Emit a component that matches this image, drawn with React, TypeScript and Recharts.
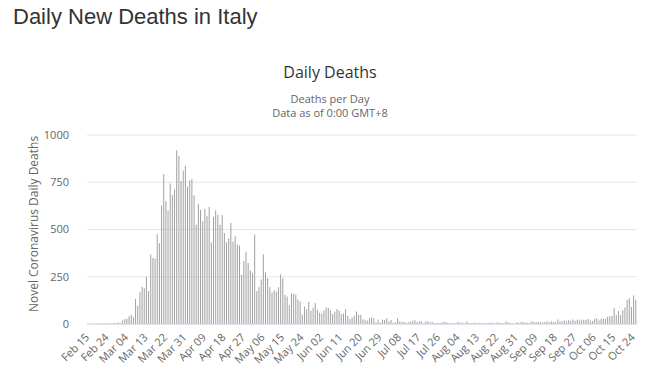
import { BarChart, Bar, XAxis, YAxis, CartesianGrid } from 'recharts';

// daily deaths per month, Feb 15 .. Oct 25
const febDeaths = [0, 0, 0, 0, 0, 0, 1, 1, 1, 4, 3, 2, 5, 4, 8];
const marDeaths = [
    5, 18, 27, 28, 41, 49, 36, 133, 97, 168, 196, 189, 250, 175, 368, 349, 345, 475, 427, 627,
    793, 651, 601, 743, 683, 712, 919, 889, 756, 812, 837,
];
const aprDeaths = [
    727, 760, 766, 681, 525, 636, 604, 542, 610, 570, 619, 431, 566, 602, 578, 525, 575, 482, 433,
    454, 534, 437, 464, 420, 415, 260, 333, 382, 323, 285,
];
const mayDeaths = [
    269, 474, 174, 195, 236, 369, 274, 243, 194, 165, 179, 172, 195, 262, 242, 153, 145, 99, 162,
    161, 156, 130, 119, 50, 92, 78, 117, 70, 87, 111, 75,
];
const junDeaths = [
    60, 55, 71, 88, 85, 72, 53, 65, 79, 71, 53, 56, 78, 44, 26, 34, 43, 66, 47, 49, 24, 23, 18, 30,
    34, 30, 8, 24, 6, 23,
];
const julDeaths = [
    21, 30, 15, 21, 7, 8, 30, 15, 12, 12, 7, 9, 13, 17, 20, 11, 13, 14, 3, 13, 15, 9, 11, 5, 5, 5, 5,
    11, 11, 6, 3,
];
const augDeaths = [
    5, 2, 5, 10, 6, 6, 3, 13, 5, 4, 6, 6, 3, 6, 4, 4, 4, 5, 6, 7, 3, 9, 7, 4, 4, 13, 9, 5, 4, 1, 9,
];
const sepDeaths = [
    6, 10, 10, 6, 7, 7, 14, 10, 10, 10, 11, 8, 11, 14, 9, 14, 10, 10, 24, 15, 14, 20, 14, 20, 17,
    24, 17, 24, 19, 24,
];
const octDeaths = [
    23, 22, 27, 18, 16, 28, 31, 19, 28, 29, 26, 39, 41, 43, 83, 47, 69, 47, 73, 89, 127, 136, 91,
    151, 128,
];

const months: [string, number, number[]][] = [
    ['Feb', 15, febDeaths],
    ['Mar', 1, marDeaths],
    ['Apr', 1, aprDeaths],
    ['May', 1, mayDeaths],
    ['Jun', 1, junDeaths],
    ['Jul', 1, julDeaths],
    ['Aug', 1, augDeaths],
    ['Sep', 1, sepDeaths],
    ['Oct', 1, octDeaths],
];

const yTicks = [0, 250, 500, 750, 1000];

const data: { date: string; deaths: number }[] = [];
months.forEach(([m, first, vals]) => {
    vals.forEach((v, i) => {
        const d = first + i;
        data.push({ date: `${m} ${d < 10 ? '0' + d : d}`, deaths: v });
    });
});

const font = '"Open Sans", "DejaVu Sans", sans-serif';

function DateTick(props: any) {
    const { x, y, payload } = props;
    return (
        <text
            x={x + 2}
            y={y + 6}
            transform={`rotate(-45, ${x + 2}, ${y + 6})`}
            textAnchor="end"
            fontSize={11}
            fontFamily={font}
            fill="#666"
        >
            {payload.value}
        </text>
    );
}

export default function App() {
    return (
        <div style={{ position: 'absolute', top: 0, left: 0, width: 655, height: 378, background: '#fff' }}>
            <div
                style={{
                    position: 'absolute',
                    left: 13,
                    top: 4,
                    fontFamily: '"Liberation Sans", Arial, sans-serif',
                    fontSize: 22,
                    color: '#333',
                    whiteSpace: 'nowrap',
                }}
            >
                Daily New Deaths in Italy
            </div>
            <div
                style={{
                    position: 'absolute',
                    left: 0,
                    width: 660,
                    top: 61,
                    textAlign: 'center',
                    fontFamily: font,
                    fontSize: 16,
                    color: '#333',
                }}
            >
                Daily Deaths
            </div>
            <div
                style={{
                    position: 'absolute',
                    left: 0,
                    width: 660,
                    top: 92,
                    textAlign: 'center',
                    fontFamily: font,
                    fontSize: 11,
                    lineHeight: '14px',
                    color: '#666',
                }}
            >
                Deaths per Day
                <br />
                Data as of 0:00 GMT+8
            </div>
            <div
                style={{
                    position: 'absolute',
                    left: 33,
                    top: 224,
                    transform: 'translate(-50%, -50%) rotate(-90deg)',
                    fontFamily: font,
                    fontSize: 12,
                    color: '#666',
                    whiteSpace: 'nowrap',
                }}
            >
                Novel Coronavirus Daily Deaths
            </div>
            <div style={{ position: 'absolute', top: 0, left: 0 }}>
                <BarChart
                    width={655}
                    height={378}
                    data={data}
                    margin={{ top: 135, right: 18, bottom: 4, left: 20 }}
                    barCategoryGap="20%"
                >
                    <CartesianGrid vertical={false} stroke="#e6e6e6" />
                    <XAxis
                        dataKey="date"
                        interval={8}
                        tickLine={false}
                        axisLine={{ stroke: '#ccd6eb' }}
                        tick={<DateTick />}
                        height={50}
                    />
                    <YAxis
                        domain={[0, 1000]}
                        ticks={yTicks}
                        axisLine={false}
                        tickLine={false}
                        width={67}
                        tick={{ fontSize: 11, fill: '#666', fontFamily: font }}
                        tickMargin={12}
                    />
                    <Bar dataKey="deaths" fill="#a0a0a0" isAnimationActive={false} />
                </BarChart>
            </div>
        </div>
    );
}
